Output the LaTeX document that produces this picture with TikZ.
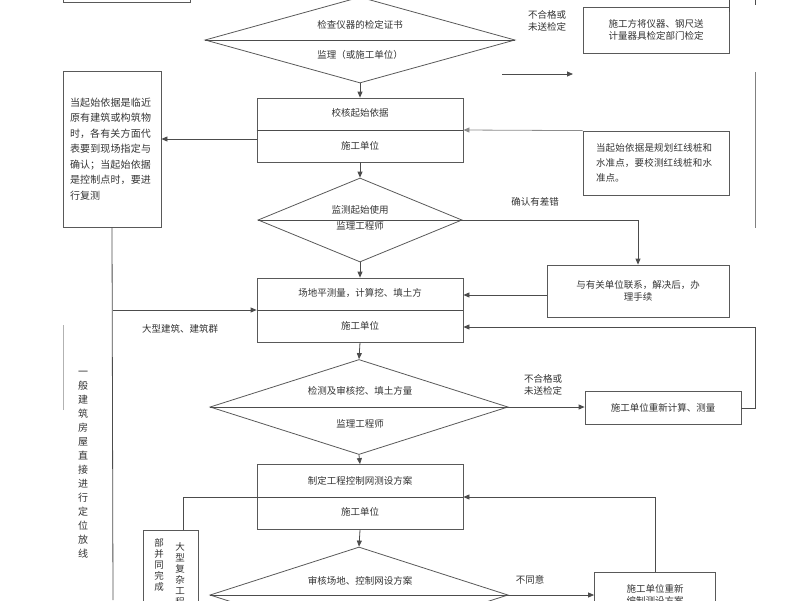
\documentclass[tikz,border=0pt]{standalone}
\usepackage{fontspec}
\newfontfamily\cjk{Noto Sans CJK SC}
\XeTeXlinebreaklocale "zh"
\XeTeXlinebreakskip=0pt plus 1pt
\usetikzlibrary{shapes.geometric,arrows.meta,calc}
\begin{document}
\begin{tikzpicture}[x=1pt,y=-1pt,
  every node/.style={font=\cjk\fontsize{9.5}{12.5}\selectfont,text=black!80},
  box/.style={draw=black!65,line width=0.8pt,inner sep=0pt,align=center},
  dia/.style={draw=black!65,line width=0.8pt,diamond,inner sep=0pt},
  ln/.style={draw=black!70,line width=0.8pt},
  ar/.style={ln,-{Triangle[length=6pt,width=5pt]}},
  lbl/.style={inner sep=0pt,align=left}]
\useasboundingbox (0,0) rectangle (800,600);
\clip (0,0) rectangle (800,600);
% top partial box
\node[box,minimum width=127pt,minimum height=20pt] (b0) at (126.5,-8) {};
% diamond 1
\node[dia,minimum width=310pt,minimum height=86pt] (d1) at (360,40) {};
\draw[ln] (d1.west) -- (d1.east);
\node (d1a) at (360,25) {检查仪器的检定证书};
\node (d1b) at (360,55) {监理（或施工单位）};
\node[lbl] (l1) at (547,21) {不合格或\\未送检定};
\node[box,minimum width=146pt,minimum height=46pt] (r1) at (656,30) {施工方将仪器、钢尺送\\计量器具检定部门检定};
\draw[ln] (729.5,0) -- (729.5,12);
\draw[ln] (755,0) -- (755,5);
\coordinate (a1s) at (502,74); \coordinate (a1e) at (573,74);
\draw[ar] (a1s) -- (a1e);
\coordinate (v1a) at (755,72); \coordinate (v1b) at (755,228);
\draw[ln,draw=black!50] (v1a) -- (v1b);
% box 2
\node[box,minimum width=206pt,minimum height=64pt] (b2) at (360,130) {};
\draw[ln] (b2.west) -- (b2.east);
\node (b2a) at (360,113) {校核起始依据};
\node (b2b) at (360,146) {施工单位};
\draw[ar] (d1.south) -- (b2.north);
% left box
\node[box,minimum width=98pt,minimum height=156pt,text width=84pt,align=left,font=\cjk\fontsize{10}{15.5}\selectfont] (lb) at (112,149) {当起始依据是临近原有建筑或构筑物时，各有关方面代表要到现场指定与确认；当起始依据是控制点时，要进行复测};
\draw[ar] ($(b2.west)+(0,9)$) -- (lb.east |- {$(b2.west)+(0,9)$});
% right box 2
\node[box,minimum width=146pt,minimum height=64pt,text width=120pt,align=left,font=\cjk\fontsize{9.5}{15}\selectfont] (r2) at (656,163) {当起始依据是规划红线桩和水准点，要校测红线桩和水准点。};
\draw[ar,draw=black!45] (r2.north west) -- (b2.east);
% diamond 2
\node[dia,minimum width=204pt,minimum height=84pt] (d2) at (360,220) {};
\draw[ln] (d2.west) -- (d2.east);
\node (d2a) at (360,210) {监测起始使用};
\node (d2b) at (360,226) {监理工程师};
\draw[ar] (b2.south) -- (d2.north);
\node[lbl] (l2) at (535,202) {确认有差错};
\node[box,minimum width=182pt,minimum height=52pt] (r3) at (638,291) {与有关单位联系，解决后，办\\理手续};
\draw[ar] (d2.east) -| (r3.north);
% box 3
\node[box,minimum width=206pt,minimum height=64pt] (b3) at (360,310) {};
\draw[ln] (b3.west) -- (b3.east);
\node (b3a) at (360,293) {场地平测量，计算挖、填土方};
\node (b3b) at (360,326) {施工单位};
\draw[ar] (d2.south) -- (b3.north);
\draw[ar] (r3.west |- 0,295) -- (b3.east |- 0,295);
% left trunk
\coordinate (t1) at (113,600);
\draw[ln] (lb.south) -- (t1);
\draw[ar] (113,310) -- (b3.west);
\node[lbl] (l3) at (180,329) {大型建筑、建筑群};
\node[align=center,inner sep=0pt,font=\cjk\fontsize{10}{14}\selectfont] (vt) at (83,465) {一\\般\\建\\筑\\房\\屋\\直\\接\\进\\行\\定\\位\\放\\线};
\draw[draw=black!30,line width=0.5pt] (63,325) -- (63,410);
% diamond 3
\node[dia,minimum width=298pt,minimum height=95pt] (d3) at (359,407) {};
\draw[ln] (d3.west) -- (d3.east);
\node (d3a) at (360,391) {检测及审核挖、填土方量};
\node (d3b) at (360,424) {监理工程师};
\draw[ar] (b3.south) -- (d3.north);
\node[lbl] (l4) at (543,385) {不合格或\\未送检定};
\node[box,minimum width=156pt,minimum height=33pt] (r4) at (663,408) {施工单位重新计算、测量};
\draw[ar] (d3.east) -- (r4.west |- d3.east);
\draw[ln] (r4.east) -- (755,408) -- (755,327);
\draw[ar] (755,327) -- (b3.east |- 0,327);
% box 4
\node[box,minimum width=206pt,minimum height=65pt] (b4) at (360,497) {};
\draw[ln] (b4.west) -- (b4.east);
\node (b4a) at (360,481) {制定工程控制网测设方案};
\node (b4b) at (360,512) {施工单位};
\draw[ar] (d3.south) -- (b4.north);
% small vertical box
\node[box,minimum width=55pt,minimum height=90pt] (sb) at (171,575) {};
\node[align=center,inner sep=0pt,font=\cjk\fontsize{9.5}{11}\selectfont] (sbt1) at (180,574) {大\\型\\复\\杂\\工\\程};
\node[align=center,inner sep=0pt,font=\cjk\fontsize{9.5}{11}\selectfont] (sbt2) at (159,565) {部\\并\\同\\完\\成};
\draw[ln] (b4.west) -- (183,497) -- (sb.north -| 183,0);
% diamond 4
\node[dia,minimum width=298pt,minimum height=96pt] (d4) at (359,595) {};
\draw[ln] (d4.west) -- (d4.east);
\node (d4a) at (360,581) {审核场地、控制网设方案};
\draw[ar] (b4.south) -- (d4.north);
\node[lbl] (l5) at (530,580) {不同意};
\node[box,minimum width=121pt,minimum height=46pt] (r5) at (655,595) {施工单位重新\\编制测设方案};
\draw[ar] (d4.east) -- (r5.west |- d4.east);
\draw[ar] (r5.north) |- (b4.east);
\end{tikzpicture}
\end{document}
